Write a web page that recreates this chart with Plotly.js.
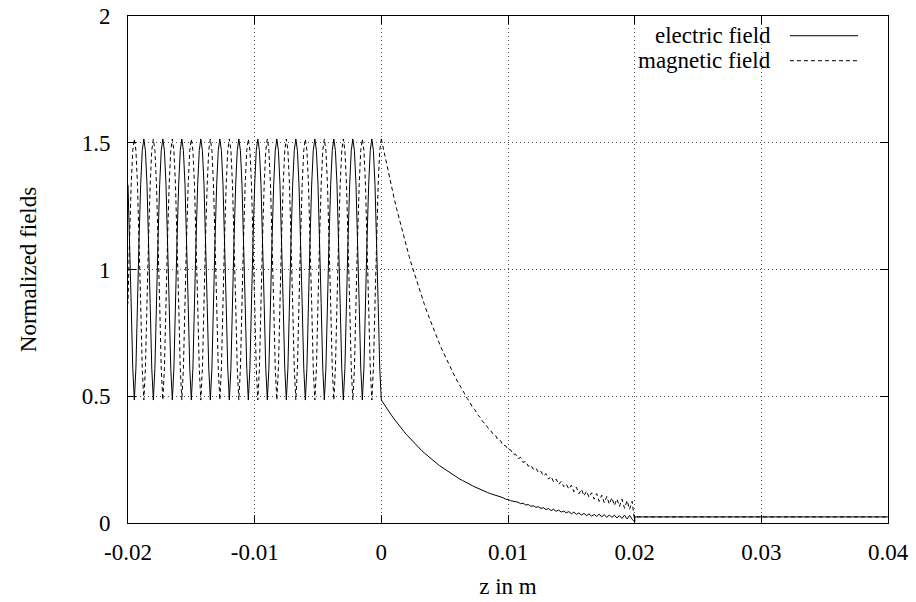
<!DOCTYPE html>
<html>
<head>
<meta charset="utf-8">
<script src="https://cdn.plot.ly/plotly-3.0.1.min.js"></script>
<style>html,body{margin:0;padding:0;background:#fff;}#chart{width:916px;height:602px;}</style>
</head>
<body>
<div id="chart"></div>
<script>
// ---- data ----
// standing-wave region (z <= 0), sampled from z = 0 going towards z = -0.02
const zStandStart = 0;
const zStandStep = -0.000125;
const eStand = [
0.485,0.611,0.866,1.125,1.334,1.469,1.515,1.469,1.334,1.125,0.866,0.611,
0.485,0.611,0.866,1.125,1.334,1.469,1.515,1.469,1.334,1.125,0.866,0.611,
0.485,0.611,0.866,1.125,1.334,1.469,1.515,1.469,1.334,1.125,0.866,0.611,
0.485,0.611,0.866,1.125,1.334,1.469,1.515,1.469,1.334,1.125,0.866,0.611,
0.485,0.611,0.866,1.125,1.334,1.469,1.515,1.469,1.334,1.125,0.866,0.611,
0.485,0.611,0.866,1.125,1.334,1.469,1.515,1.469,1.334,1.125,0.866,0.611,
0.485,0.611,0.866,1.125,1.334,1.469,1.515,1.469,1.334,1.125,0.866,0.611,
0.485,0.611,0.866,1.125,1.334,1.469,1.515,1.469,1.334,1.125,0.866,0.611,
0.485,0.611,0.866,1.125,1.334,1.469,1.515,1.469,1.334,1.125,0.866,0.611,
0.485,0.611,0.866,1.125,1.334,1.469,1.515,1.469,1.334,1.125,0.866,0.611,
0.485,0.611,0.866,1.125,1.334,1.469,1.515,1.469,1.334,1.125,0.866,0.611,
0.485,0.611,0.866,1.125,1.334,1.469,1.515,1.469,1.334,1.125,0.866,0.611,
0.485,0.611,0.866,1.125,1.334,1.469,1.515,1.469,1.334,1.125,0.866,0.611,
0.485,0.611,0.866,1.125,1.334
];
const hStand = [
1.515,1.469,1.334,1.125,0.866,0.611,0.485,0.611,0.866,1.125,1.334,1.469,
1.515,1.469,1.334,1.125,0.866,0.611,0.485,0.611,0.866,1.125,1.334,1.469,
1.515,1.469,1.334,1.125,0.866,0.611,0.485,0.611,0.866,1.125,1.334,1.469,
1.515,1.469,1.334,1.125,0.866,0.611,0.485,0.611,0.866,1.125,1.334,1.469,
1.515,1.469,1.334,1.125,0.866,0.611,0.485,0.611,0.866,1.125,1.334,1.469,
1.515,1.469,1.334,1.125,0.866,0.611,0.485,0.611,0.866,1.125,1.334,1.469,
1.515,1.469,1.334,1.125,0.866,0.611,0.485,0.611,0.866,1.125,1.334,1.469,
1.515,1.469,1.334,1.125,0.866,0.611,0.485,0.611,0.866,1.125,1.334,1.469,
1.515,1.469,1.334,1.125,0.866,0.611,0.485,0.611,0.866,1.125,1.334,1.469,
1.515,1.469,1.334,1.125,0.866,0.611,0.485,0.611,0.866,1.125,1.334,1.469,
1.515,1.469,1.334,1.125,0.866,0.611,0.485,0.611,0.866,1.125,1.334,1.469,
1.515,1.469,1.334,1.125,0.866,0.611,0.485,0.611,0.866,1.125,1.334,1.469,
1.515,1.469,1.334,1.125,0.866,0.611,0.485,0.611,0.866,1.125,1.334,1.469,
1.515,1.469,1.334,1.125,0.866
];
// slab region (0 <= z <= 0.02)
const zSlabStart = 0;
const zSlabStep = 0.0002;
const eSlab = [
0.485,0.469,0.454,0.439,0.425,0.411,0.397,0.384,0.372,0.360,
0.348,0.337,0.326,0.315,0.305,0.295,0.285,0.276,0.267,0.258,
0.250,0.242,0.234,0.226,0.219,0.212,0.205,0.198,0.191,0.185,
0.179,0.173,0.168,0.162,0.157,0.152,0.147,0.142,0.137,0.133,
0.129,0.124,0.120,0.116,0.113,0.108,0.106,0.101,0.100,0.094,
0.093,0.088,0.087,0.083,0.082,0.076,0.078,0.071,0.073,0.066,
0.068,0.062,0.064,0.058,0.060,0.053,0.057,0.049,0.054,0.046,
0.051,0.043,0.047,0.040,0.045,0.036,0.043,0.034,0.040,0.031,
0.038,0.029,0.036,0.027,0.034,0.026,0.035,0.024,0.033,0.022,
0.032,0.022,0.031,0.020,0.029,0.018,0.031,0.016,0.030,0.015,
0.004
];
const hSlab = [
1.515,1.466,1.418,1.371,1.327,1.283,1.241,1.201,1.162,1.124,
1.087,1.051,1.017,0.984,0.952,0.921,0.891,0.862,0.833,0.806,
0.780,0.755,0.730,0.706,0.683,0.661,0.639,0.618,0.598,0.578,
0.560,0.541,0.524,0.507,0.490,0.476,0.456,0.446,0.427,0.417,
0.400,0.392,0.376,0.367,0.352,0.347,0.328,0.325,0.307,0.305,
0.290,0.289,0.272,0.271,0.254,0.259,0.239,0.243,0.224,0.229,
0.212,0.217,0.199,0.204,0.186,0.195,0.173,0.184,0.162,0.173,
0.152,0.164,0.143,0.154,0.134,0.149,0.123,0.141,0.115,0.133,
0.107,0.126,0.101,0.119,0.094,0.116,0.085,0.110,0.080,0.105,
0.074,0.100,0.069,0.095,0.065,0.094,0.058,0.089,0.054,0.086,
0.005
];
// free-space region after the slab
const zFree = [0.02, 0.02, 0.04];
const eFree = [0.004, 0.024, 0.024];
const hFree = [0.005, 0.024, 0.024];

const xTickVals = [-0.02, -0.01, 0, 0.01, 0.02, 0.03, 0.04];
const xTickText = ['-0.02', '-0.01', '0', '0.01', '0.02', '0.03', '0.04'];
const yTickVals = [0, 0.5, 1, 1.5, 2];
const yTickText = ['0', '0.5', '1', '1.5', '2'];
const seriesNames = ['electric field', 'magnetic field'];

// ---- drawing ----
const FONT = 'Liberation Serif';
const solid = {color: '#000', width: 1, dash: 'solid'};
const dashed = {color: '#000', width: 1, dash: '4px,3px'};

const traces = [
  {type: 'scatter', mode: 'lines', x: zFree, y: hFree, line: dashed, showlegend: false},
  {type: 'scatter', mode: 'lines', x0: zStandStart, dx: zStandStep, y: eStand, line: solid, name: seriesNames[0], showlegend: false},
  {type: 'scatter', mode: 'lines', x0: zSlabStart, dx: zSlabStep, y: eSlab, line: solid, showlegend: false},
  {type: 'scatter', mode: 'lines', x0: zStandStart, dx: zStandStep, y: hStand, line: dashed, name: seriesNames[1], showlegend: false},
  {type: 'scatter', mode: 'lines', x0: zSlabStart, dx: zSlabStep, y: hSlab, line: dashed, showlegend: false},
  {type: 'scatter', mode: 'lines', x: zFree, y: eFree, line: solid, showlegend: false}
];

const axisCommon = {
  showline: true, linecolor: '#000', linewidth: 1, mirror: 'ticks',
  ticks: 'inside', ticklen: 8, tickwidth: 1, tickcolor: '#000',
  showgrid: true, gridcolor: '#555', gridwidth: 1, griddash: '1px,3px',
  zeroline: false, tickfont: {family: FONT, size: 23, color: '#000'}
};

const layout = {
  width: 916, height: 602,
  margin: {l: 128, r: 28, t: 16, b: 79},
  paper_bgcolor: '#fff', plot_bgcolor: '#fff',
  font: {family: FONT, size: 23, color: '#000'},
  showlegend: false,
  xaxis: Object.assign({}, axisCommon, {
    range: [-0.02, 0.04], tickmode: 'array', tickvals: xTickVals, ticktext: xTickText,
    ticklabelstandoff: 8,
    title: {text: 'z in m', font: {family: FONT, size: 23, color: '#000'}, standoff: 14}
  }),
  yaxis: Object.assign({}, axisCommon, {
    range: [0, 2], tickmode: 'array', tickvals: yTickVals, ticktext: yTickText,
    ticklabelstandoff: 12,
    title: {text: 'Normalized fields', font: {family: FONT, size: 23, color: '#000'}, standoff: 38}
  }),
  shapes: [
    {type: 'line', xref: 'paper', yref: 'paper', x0: 0.871, x1: 0.9605, y0: 0.9611, y1: 0.9611, line: solid},
    {type: 'line', xref: 'paper', yref: 'paper', x0: 0.871, x1: 0.9605, y0: 0.9118, y1: 0.9118, line: dashed}
  ],
  annotations: [
    {xref: 'paper', yref: 'paper', x: 0.849, y: 0.9611, xanchor: 'right', yanchor: 'middle', showarrow: false,
     text: seriesNames[0], font: {family: FONT, size: 23, color: '#000'}},
    {xref: 'paper', yref: 'paper', x: 0.849, y: 0.9118, xanchor: 'right', yanchor: 'middle', showarrow: false,
     text: seriesNames[1], font: {family: FONT, size: 23, color: '#000'}}
  ]
};

Plotly.newPlot('chart', traces, layout, {staticPlot: true, displayModeBar: false});
</script>
</body>
</html>
